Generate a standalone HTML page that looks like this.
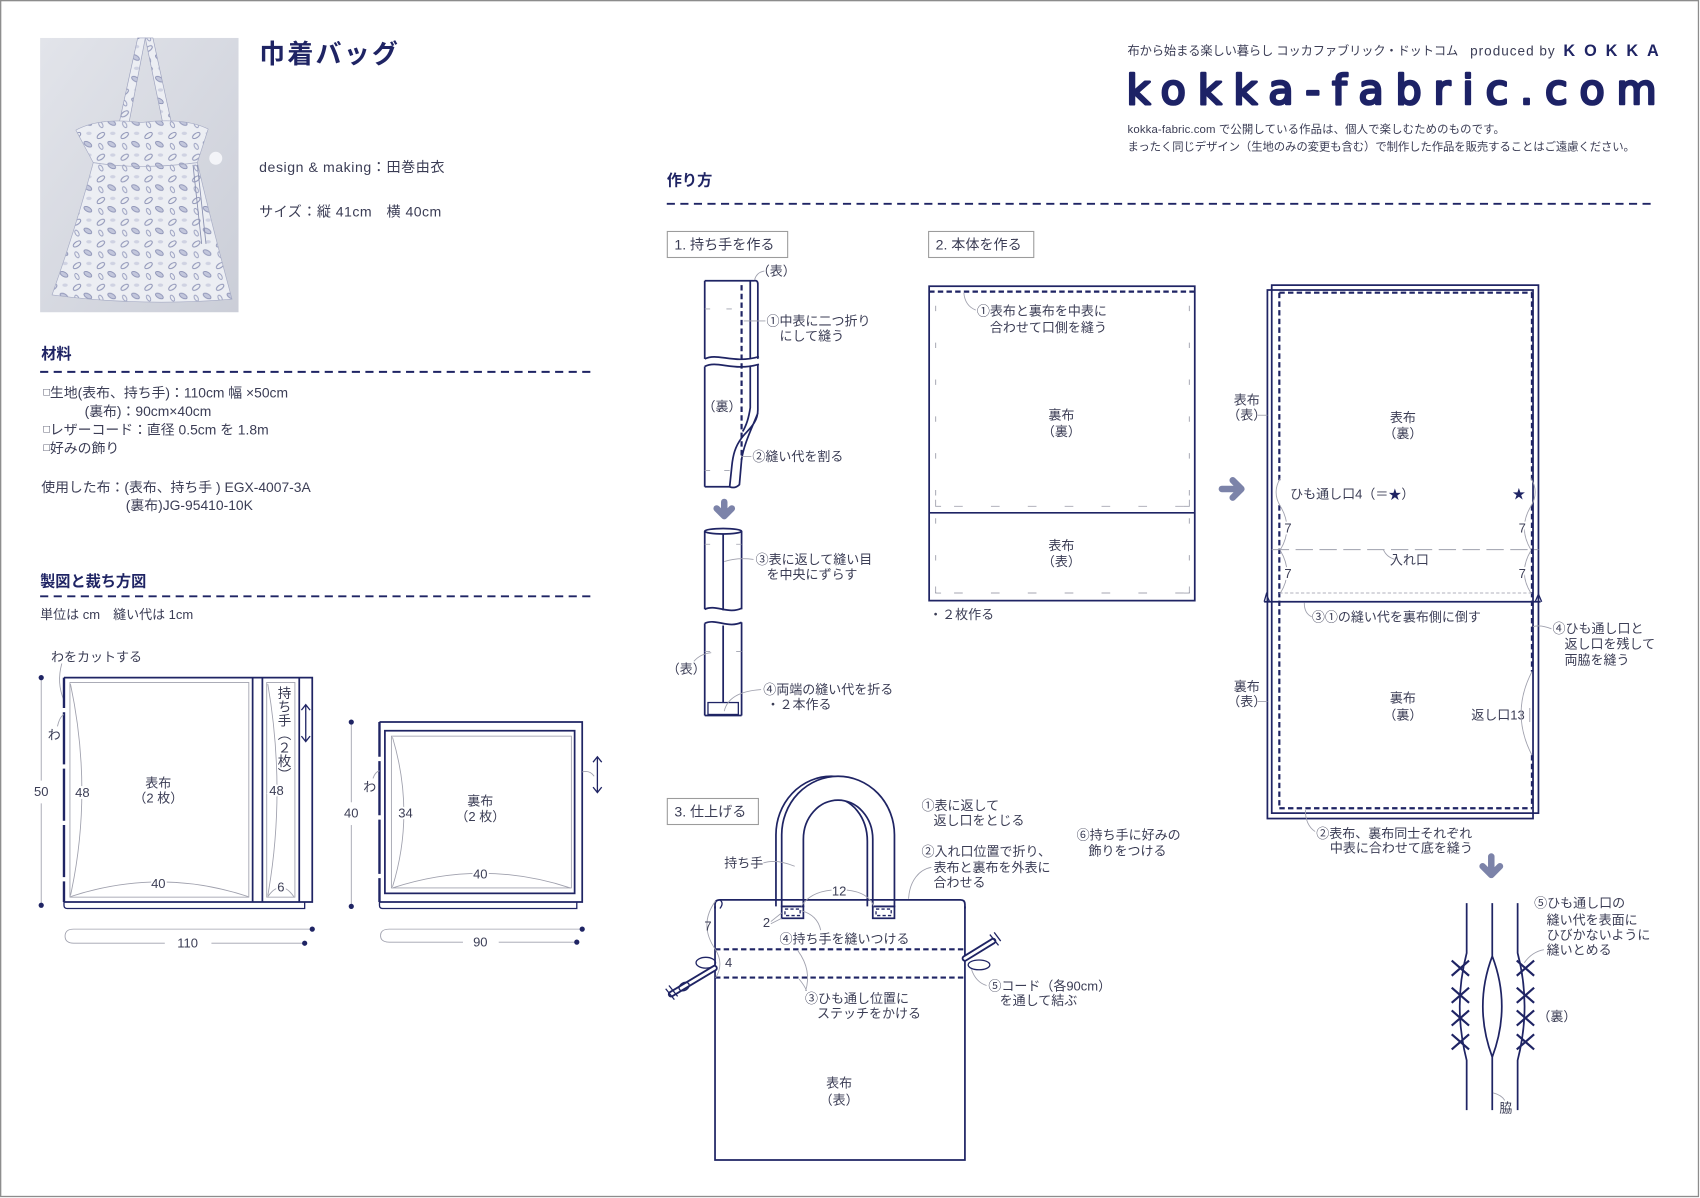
<!DOCTYPE html>
<html><head><meta charset="utf-8">
<style>
html,body{margin:0;padding:0;background:#fff;}
svg{display:block;}
text{font-family:"Liberation Sans","Noto Sans CJK JP",sans-serif;fill:#3b3d55;dominant-baseline:central;font-size:12px;}
.b{font-weight:bold;fill:#1f2464;}
.h{stroke:#fff;stroke-width:3.5px;paint-order:stroke;}
.m{text-anchor:middle;}
.nv{stroke:#1f2464;fill:none;stroke-width:1.6;}
.nt{stroke:#1f2464;fill:none;stroke-width:1.2;}
.gy{stroke:#9fa0ad;fill:none;stroke-width:0.8;}
.gd{stroke:#a5a6b2;fill:none;stroke-width:0.9;stroke-dasharray:5 29;}
.ds{stroke:#1f2464;fill:none;stroke-width:2;stroke-dasharray:5 3;}
.sec{stroke:#1f2464;fill:none;stroke-width:1.8;stroke-dasharray:7.5 5;}
.ar{stroke:#7c83a9;fill:none;stroke-width:6;stroke-linecap:round;stroke-linejoin:round;}
.dot{fill:#1f2464;}
</style></head><body>
<svg width="1700" height="1198" viewBox="0 0 1568 1105" xmlns="http://www.w3.org/2000/svg">
<defs>
<linearGradient id="wall" x1="0" y1="0" x2="1" y2="1">
<stop offset="0" stop-color="#e2e4ea"/><stop offset="1" stop-color="#cbced8"/>
</linearGradient>
<pattern id="leaf" width="22" height="20" patternUnits="userSpaceOnUse">
<rect width="22" height="20" fill="#eceef3"/>
<ellipse cx="5" cy="5" rx="4" ry="2" transform="rotate(-35 5 5)" fill="none" stroke="#8a90b4" stroke-width="0.9"/>
<ellipse cx="15" cy="13" rx="4" ry="2" transform="rotate(30 15 13)" fill="#c3c7dc" stroke="#8a90b4" stroke-width="0.8"/>
<ellipse cx="16" cy="3" rx="2.5" ry="1.5" fill="#cfd2e2"/>
<ellipse cx="5" cy="15" rx="3" ry="1.6" transform="rotate(60 5 15)" fill="none" stroke="#959bbd" stroke-width="0.8"/>
</pattern>
</defs>

<!-- page border -->
<rect x="0.6" y="0.6" width="1566" height="1103" fill="none" stroke="#8c8c8c" stroke-width="1.2"/>

<!-- photo -->
<rect x="37" y="35" width="183" height="253" fill="url(#wall)"/>
<polygon points="127,35 134,35 119,113 110,113" fill="url(#leaf)" stroke="#9ca1bd" stroke-width="0.6"/>
<polygon points="134,35 141,35 158,113 150,113" fill="url(#leaf)" stroke="#9ca1bd" stroke-width="0.6"/>
<path d="M70,120 Q92,108 130,113 Q170,108 192,119 L182,150 Q130,158 86,150 Z" fill="url(#leaf)" stroke="#a6abc4" stroke-width="0.6"/>
<path d="M86,150 Q130,157 182,150 Q196,210 214,276 Q130,283 48,272 Q70,210 86,150 Z" fill="url(#leaf)" stroke="#a6abc4" stroke-width="0.6"/>
<path d="M178,152 L186,225 M182,152 L190,225" stroke="#8a90b0" stroke-width="0.8" fill="none"/>
<circle cx="199" cy="146" r="6" fill="#f3f4f8"/>

<!-- title block -->
<text x="239" y="50" class="b" style="font-size:24px" textLength="128">巾着バッグ</text>
<text x="239" y="154" style="font-size:13px" textLength="171">design &amp; making：田巻由衣</text>
<text x="239" y="195" style="font-size:13px" textLength="168">サイズ：縦 41cm　横 40cm</text>

<!-- header right -->
<text x="1040" y="47" style="font-size:11.3px" textLength="305">布から始まる楽しい暮らし コッカファブリック・ドットコム</text>
<text x="1356" y="47" style="font-size:12.5px" textLength="78">produced by</text>
<text x="1442" y="47" class="b" style="font-size:15px" textLength="88">KOKKA</text>
<text x="1039" y="83" style="font-size:38px;fill:#1d2266;stroke:#1d2266;stroke-width:2.4px;stroke-linejoin:round;font-family:'DejaVu Sans',sans-serif" textLength="489" lengthAdjust="spacing">kokka-fabric.com</text>
<text x="1040" y="120" style="font-size:10.5px" textLength="348">kokka-fabric.com で公開している作品は、個人で楽しむためのものです。</text>
<text x="1040" y="136" style="font-size:10.5px" textLength="468">まったく同じデザイン（生地のみの変更も含む）で制作した作品を販売することはご遠慮ください。</text>

<!-- section headers -->
<text x="38" y="327" class="b" style="font-size:14px">材料</text>
<line x1="37" y1="343" x2="545" y2="343" class="sec"/>
<text x="37" y="537" class="b" style="font-size:14px">製図と裁ち方図</text>
<line x1="37" y1="550" x2="545" y2="550" class="sec"/>
<text x="615" y="167" class="b" style="font-size:14px">作り方</text>
<line x1="615" y1="188" x2="1527" y2="188" class="sec"/>

<!-- materials -->
<text x="40" y="362" style="font-size:12.8px"><tspan style="font-size:10px">□</tspan>生地(表布、持ち手)：110cm 幅 ×50cm</text>
<text x="78" y="379" style="font-size:12.8px">(裏布)：90cm×40cm</text>
<text x="40" y="396" style="font-size:12.8px"><tspan style="font-size:10px">□</tspan>レザーコード：直径 0.5cm を 1.8m</text>
<text x="40" y="413" style="font-size:12.8px"><tspan style="font-size:10px">□</tspan>好みの飾り</text>
<text x="38" y="449" style="font-size:12.8px">使用した布：(表布、持ち手 ) EGX-4007-3A</text>
<text x="116" y="466" style="font-size:12.8px">(裏布)JG-95410-10K</text>
<text x="37" y="567" style="font-size:12px">単位は cm　縫い代は 1cm</text>

<!-- cutting diagram piece 1 -->
<text x="47" y="606">わをカットする</text>
<path d="M57,612 Q52,630 59,646" class="gy"/>
<path d="M59,625 H288 V832 H59" class="nv"/>
<line x1="59" y1="625" x2="59" y2="832" stroke="#1f2464" stroke-width="2.2" stroke-dasharray="48 4" stroke-dashoffset="20"/>
<line x1="233" y1="625" x2="233" y2="832" class="nv"/>
<line x1="242" y1="625" x2="242" y2="832" class="nv"/>
<line x1="276" y1="625" x2="276" y2="832" class="nv"/>
<rect x="64.5" y="629.5" width="165" height="198" class="gy"/>
<rect x="246" y="629.5" width="26" height="198" class="gy"/>
<path d="M59,832 V835 Q59,838 62,838 H281 V832" class="nt"/>
<path d="M65,631 Q86,730 65,826" class="gy"/>
<path d="M65,827 Q147,800 229,827" class="gy"/>
<path d="M247,631 Q264,730 247,826" class="gy"/>
<path d="M247,827 Q259,810 271,827" class="gy"/>
<text x="76" y="731" class="m h">48</text>
<text x="146" y="815" class="m h">40</text>
<text x="255" y="729" class="m h">48</text>
<text x="259" y="818" class="m h">6</text>
<text x="146" y="722" class="m">表布</text>
<text x="146" y="736" class="m">（2 枚）</text>
<text x="261" y="633" style="writing-mode:vertical-rl;font-size:12.5px">持ち手（２枚）</text>
<path d="M282,650 V684 M278,655 L282,650 L286,655 M278,679 L282,684 L286,679" class="nt"/>
<text x="50" y="678" class="m">わ</text>
<path d="M53,670 Q55,661 59,659" class="gy"/>
<line x1="38" y1="625" x2="38" y2="720" class="gy"/>
<line x1="38" y1="741" x2="38" y2="835" class="gy"/>
<circle cx="38" cy="625" r="2.4" class="dot"/><circle cx="38" cy="835" r="2.4" class="dot"/>
<text x="38" y="730" class="m">50</text>
<path d="M288,857 H68 Q60,857 60,863.5 Q60,870 68,870 H152 M195,870 H281" class="gy"/>
<circle cx="288" cy="857" r="2.4" class="dot"/><circle cx="281" cy="870" r="2.4" class="dot"/>
<text x="173" y="870" class="m">110</text>

<!-- cutting diagram piece 2 -->
<path d="M350,666 H537 V832 H350" class="nv"/>
<line x1="350" y1="666" x2="350" y2="832" stroke="#1f2464" stroke-width="2.2" stroke-dasharray="50 4" stroke-dashoffset="18"/>
<rect x="355" y="674" width="175" height="150" class="nv"/>
<rect x="361" y="679" width="166" height="140" class="gy"/>
<path d="M350,832 V835 Q350,838 353,838 H532 V832" class="nt"/>
<path d="M362,680 Q383,750 362,818" class="gy"/>
<path d="M362,819 Q444,792 526,819" class="gy"/>
<text x="374" y="750" class="m h">34</text>
<text x="443" y="806" class="m h">40</text>
<text x="443" y="739" class="m">裏布</text>
<text x="443" y="753" class="m">（2 枚）</text>
<text x="341" y="726" class="m">わ</text>
<path d="M344,718 Q346,712 350,711" class="gy"/>
<line x1="324" y1="666" x2="324" y2="740" class="gy"/>
<line x1="324" y1="761" x2="324" y2="836" class="gy"/>
<circle cx="324" cy="666" r="2.4" class="dot"/><circle cx="324" cy="836" r="2.4" class="dot"/>
<text x="324" y="750" class="m">40</text>
<path d="M551,698 V731 M547,703 L551,698 L555,703 M547,726 L551,731 L555,726" class="nt"/>
<path d="M537,712 Q544,710 548,716" class="gy"/>
<path d="M537,857 H359 Q351,857 351,863 Q351,869 359,869 H427 M460,869 H532" class="gy"/>
<circle cx="537" cy="857" r="2.4" class="dot"/><circle cx="532" cy="869" r="2.4" class="dot"/>
<text x="443" y="869" class="m">90</text>

<!-- step boxes -->
<rect x="615.5" y="213.5" width="111" height="24" fill="none" stroke="#9c9c9c" stroke-width="1"/>
<text x="622" y="225.5" style="font-size:13px">1. 持ち手を作る</text>
<rect x="856.5" y="213.5" width="97" height="24" fill="none" stroke="#9c9c9c" stroke-width="1"/>
<text x="863" y="225.5" style="font-size:13px">2. 本体を作る</text>
<rect x="615.5" y="736.5" width="84" height="24" fill="none" stroke="#9c9c9c" stroke-width="1"/>
<text x="622" y="748.5" style="font-size:13px">3. 仕上げる</text>

<!-- step 1 strip 1 -->
<path d="M650,259 H695 Q699,258 699,262 V331" class="nv"/>
<line x1="692" y1="259" x2="692" y2="331" class="nv"/>
<line x1="650" y1="259" x2="650" y2="331" class="nv"/>
<path d="M650,331 C662,325 676,336 700,329" class="nv"/>
<path d="M650,338 C662,332 676,343 700,336" class="nv"/>
<line x1="650" y1="338" x2="650" y2="449" class="nv"/>
<path d="M650,449 H673" class="nv"/>
<path d="M699,336 V378 C699,391 689,397 684,404 C678,412 676,420 675,430 L673,449 Q678,451 682,447 L684,424 C686,410 693,396 699,381" class="nv"/>
<path d="M692,337 V376 Q690,390 685,398" class="nv"/>
<line x1="684" y1="263" x2="684" y2="424" class="ds"/>
<path d="M650,285 H655 M670,285 H675 M650,434 H655 M668,434 H673" class="gy"/>
<text x="716" y="250" class="m">（表）</text>
<path d="M705,250 Q698,251 696,258" class="gy"/>
<text x="707" y="296">①中表に二つ折り</text>
<text x="719" y="310">にして縫う</text>
<path d="M686,296 H706" class="gy"/>
<text x="666" y="375" class="m">（裏）</text>
<text x="694" y="421">②縫い代を割る</text>
<path d="M684,421 H693" class="gy"/>
<!-- down arrow -->
<path d="M668,463 V475 M661,469 L668,476 L675,469" class="ar"/>
<!-- strip 2 -->
<ellipse cx="667" cy="490" rx="17" ry="2.5" class="nv"/>
<line x1="650" y1="490" x2="650" y2="562" class="nv"/>
<line x1="684" y1="490" x2="684" y2="562" class="nv"/>
<line x1="667" y1="492" x2="667" y2="563" class="nv"/>
<path d="M650,562 C660,557 672,567 684,561" class="nv"/>
<path d="M650,575 C660,570 672,580 684,574" class="nv"/>
<line x1="650" y1="575" x2="650" y2="660" class="nv"/>
<line x1="684" y1="574" x2="684" y2="660" class="nv"/>
<line x1="667" y1="577" x2="667" y2="648" class="nv"/>
<path d="M650,660 H684" class="nv"/>
<rect x="653" y="648" width="28" height="11" class="nt"/>
<path d="M650,502 H655 M679,502 H684 M650,601 H655 M679,601 H684" class="gy"/>
<text x="697" y="516">③表に返して縫い目</text>
<text x="707" y="530">を中央にずらす</text>
<path d="M668,518 Q680,514 695,516" class="gy"/>
<text x="633" y="617" class="m">（表）</text>
<path d="M640,610 Q646,603 656,602" class="gy"/>
<text x="704" y="636">④両端の縫い代を折る</text>
<text x="707" y="650">・２本作る</text>
<path d="M668,656 Q672,638 702,636" class="gy"/>

<!-- step 2 left -->
<rect x="857" y="264" width="245" height="290" class="nv"/>
<line x1="857" y1="473" x2="1102" y2="473" class="nv"/>
<line x1="857" y1="269" x2="1102" y2="269" class="ds"/>
<line x1="863" y1="282" x2="863" y2="466" class="gd"/>
<line x1="1097" y1="282" x2="1097" y2="466" class="gd"/>
<line x1="880" y1="467" x2="1097" y2="467" class="gd" style="stroke-dasharray:8 26"/>
<path d="M863,461 V467 H868 M1097,461 V467 H1092" class="gy"/>
<line x1="863" y1="478" x2="863" y2="547" class="gd"/>
<line x1="1097" y1="478" x2="1097" y2="547" class="gd"/>
<line x1="880" y1="547" x2="1097" y2="547" class="gd" style="stroke-dasharray:8 26"/>
<path d="M863,541 V547 H868 M1097,541 V547 H1092" class="gy"/>
<text x="901" y="287">①表布と裏布を中表に</text>
<text x="913" y="302">合わせて口側を縫う</text>
<path d="M889,270 Q890,282 900,286" class="gy"/>
<text x="979" y="383" class="m">裏布</text>
<text x="979" y="398" class="m">（裏）</text>
<text x="979" y="503" class="m">表布</text>
<text x="979" y="518" class="m">（表）</text>
<text x="857" y="567">・２枚作る</text>

<!-- right arrow -->
<path d="M1127,451 H1143 M1137,443 L1145,451 L1137,459" class="ar"/>

<!-- step 2 right -->
<rect x="1169" y="267.5" width="245" height="487.5" class="nv"/>
<rect x="1173" y="263" width="246" height="487" class="nv"/>
<line x1="1166" y1="555" x2="1421" y2="555" class="nv"/>
<path d="M1166,555 L1168,548 L1171,555 M1416,555 L1419,548 L1422,555" class="nt"/>
<line x1="1180" y1="270" x2="1413" y2="270" class="ds"/>
<line x1="1180" y1="270" x2="1180" y2="443" class="ds"/>
<line x1="1180" y1="466" x2="1180" y2="745.5" class="ds"/>
<line x1="1413" y1="270" x2="1413" y2="443" class="ds"/>
<line x1="1413" y1="466" x2="1413" y2="619.5" class="ds"/>
<line x1="1413" y1="696.5" x2="1413" y2="745.5" class="ds"/>
<line x1="1180" y1="745.5" x2="1413" y2="745.5" class="ds"/>
<line x1="1173" y1="507" x2="1419" y2="507" stroke="#9fa0ad" stroke-width="0.9" stroke-dasharray="16 6"/>
<line x1="1180" y1="547" x2="1413" y2="547" stroke="#b0b1bc" stroke-width="0.9" stroke-dasharray="3 2"/>
<path d="M1181,441 Q1173,454 1181,467" class="gy"/>
<path d="M1412,441 Q1420,454 1412,467" class="gy"/>
<path d="M1181,467 Q1193,487 1181,507 M1181,508 Q1193,528 1181,547" class="gy"/>
<path d="M1412,467 Q1400,487 1412,507 M1412,508 Q1400,528 1412,547" class="gy"/>
<text x="1188" y="487" class="m h">7</text>
<text x="1188" y="529" class="m h">7</text>
<text x="1404" y="487" class="m h">7</text>
<text x="1404" y="529" class="m h">7</text>
<text x="1190" y="455.5">ひも通し口4（＝<tspan style="fill:#1f2464">★</tspan>）</text>
<text x="1401" y="455.5" class="m" style="fill:#1f2464">★</text>
<text x="1300" y="516.5" class="m h">入れ口</text>
<path d="M1276,507 Q1279,514 1287,516" class="gy"/>
<text x="1294" y="385" class="m">表布</text>
<text x="1294" y="400" class="m">（裏）</text>
<text x="1150" y="369" class="m">表布</text>
<text x="1150" y="383" class="m">（表）</text>
<path d="M1160,383 H1169" class="gy"/>
<text x="1210" y="569">③①の縫い代を裏布側に倒す</text>
<path d="M1203,556 Q1203,566 1210,569" class="gy"/>
<text x="1432" y="579.5">④ひも通し口と</text>
<text x="1443" y="594">返し口を残して</text>
<text x="1443" y="608.7">両脇を縫う</text>
<path d="M1414,578 Q1421,576 1431,580" class="gy"/>
<text x="1150" y="633" class="m">裏布</text>
<text x="1150" y="647" class="m">（表）</text>
<path d="M1160,647 H1169" class="gy"/>
<text x="1294" y="644" class="m">裏布</text>
<text x="1294" y="659.5" class="m">（裏）</text>
<text x="1357" y="659.5">返し口13</text>
<path d="M1413,619.5 Q1393,658 1413,696.5" class="gy"/>
<line x1="1411" y1="653" x2="1411" y2="666" class="gy"/>
<text x="1214" y="768.6">②表布、裏布同士それぞれ</text>
<text x="1226.6" y="782.4">中表に合わせて底を縫う</text>
<path d="M1204,747 Q1204,761 1213,767" class="gy"/>
<path d="M1375.5,790 V805 M1367.5,799 L1375.5,807 L1383.5,799" class="ar"/>

<!-- step 2 detail bottom right -->
<path d="M1352.8,833 V879 Q1340,928 1352.8,978 V1024" class="nv"/>
<path d="M1399.8,833 V879 Q1412.6,928 1399.8,978 V1024" class="nv"/>
<path d="M1376.4,833 V882 Q1359,928 1376.4,975 V1024 M1376.4,882 Q1394,928 1376.4,975" class="nv"/>
<g stroke="#1f2464" stroke-width="2" fill="none">
<path d="M1339,886 L1355,900 M1339,900 L1355,886"/>
<path d="M1339,911 L1355,925 M1339,925 L1355,911"/>
<path d="M1339,932 L1355,946 M1339,946 L1355,932"/>
<path d="M1339,954 L1355,968 M1339,968 L1355,954"/>
<path d="M1399,886 L1415,900 M1399,900 L1415,886"/>
<path d="M1399,911 L1415,925 M1399,925 L1415,911"/>
<path d="M1399,932 L1415,946 M1399,946 L1415,932"/>
<path d="M1399,954 L1415,968 M1399,968 L1415,954"/>
</g>
<text x="1415" y="833">⑤ひも通し口の</text>
<text x="1426.6" y="848.6">縫い代を表面に</text>
<text x="1426.6" y="862.4">ひびかないように</text>
<text x="1426.6" y="876.2">縫いとめる</text>
<path d="M1424,876 Q1413,878 1406,888" class="gy"/>
<text x="1436" y="937.7" class="m">（裏）</text>
<text x="1389" y="1022" class="m">脇</text>
<path d="M1377,1008 Q1385,1010 1388,1015" class="gy"/>

<!-- step 3 bag -->
<path d="M715.7,836 V770 A51,54 0 0 1 817.7,770 V836" class="nv"/>
<path d="M736,836 V776 A32,40 0 0 1 800,776 V836" class="nv"/>
<path d="M721,836 V770 A52,54 0 0 1 825,770 V836 H805 V774 A32,36 0 0 0 741,774 V836 Z" fill="#fff" stroke="#1f2464" stroke-width="1.6"/>
<path d="M659.5,836 V1070 H890 V836" class="nv"/>
<path d="M659.5,838 V834 Q659.5,830 664,830 H886 Q890,830 890,834 V838" class="nv"/>
<path d="M664,830 Q668,833 664,838" class="nt"/>
<line x1="659.5" y1="875.6" x2="890" y2="875.6" class="ds"/>
<line x1="659.5" y1="901.7" x2="890" y2="901.7" class="ds"/>
<rect x="721" y="836" width="20" height="11" fill="#fff" class="nv"/>
<rect x="724" y="838.5" width="14" height="6" fill="none" stroke="#1f2464" stroke-width="1.2" stroke-dasharray="3 2"/>
<rect x="805" y="836" width="20" height="11" fill="#fff" class="nv"/>
<rect x="808" y="838.5" width="14" height="6" fill="none" stroke="#1f2464" stroke-width="1.2" stroke-dasharray="3 2"/>
<ellipse cx="651" cy="888" rx="9" ry="5" fill="#fff" class="nt"/>
<path d="M659,893 L619,917" stroke="#1f2464" stroke-width="6" stroke-linecap="round"/>
<path d="M659,893 L619,917" stroke="#fff" stroke-width="2.6" stroke-linecap="round"/>
<ellipse cx="631" cy="910" rx="5" ry="3.5" transform="rotate(-30 631 910)" fill="#fff" class="nt"/>
<path d="M614,912 L622,922 M617,909 L625,919" class="nt"/>
<ellipse cx="903" cy="890" rx="10" ry="4.5" fill="#fff" class="nt"/>
<path d="M890,884 L916,868" stroke="#1f2464" stroke-width="6" stroke-linecap="round"/>
<path d="M890,884 L916,868" stroke="#fff" stroke-width="2.6" stroke-linecap="round"/>
<path d="M913,862 L921,872 M917,860 L923,868" class="nt"/>
<text x="850" y="743">①表に返して</text>
<text x="861" y="757">返し口をとじる</text>
<text x="850" y="785.5">②入れ口位置で折り、</text>
<text x="861" y="800">表布と裏布を外表に</text>
<text x="861" y="814">合わせる</text>
<path d="M838,829 C839,812 848,802 859,800" class="gy"/>
<text x="993" y="770">⑥持ち手に好みの</text>
<text x="1004" y="785">飾りをつける</text>
<text x="668" y="796">持ち手</text>
<path d="M704,796 Q716,792 733,799" class="gy"/>
<path d="M739,836 Q747,823 767,821 M781,821 Q801,823 806,836" class="gy"/>
<text x="774" y="822" class="m">12</text>
<text x="707" y="851" class="m">2</text>
<path d="M711,850 L721,842 M711,852 L721,847" class="gy"/>
<path d="M660,831 Q644,853 660,876" class="gy"/>
<text x="653" y="854" class="m">7</text>
<path d="M660,876 Q668,889 660,902" class="gy"/>
<text x="672" y="888" class="m">4</text>
<text x="719" y="866">④持ち手を縫いつける</text>
<path d="M739,840 Q754,844 757,858" class="gy"/>
<text x="742.5" y="921">③ひも通し位置に</text>
<text x="753.6" y="935">ステッチをかける</text>
<path d="M736,877 Q749,895 743,914 M737,903 Q742,909 744,914" class="gy"/>
<text x="911.6" y="909.4">⑤コード（各90cm）</text>
<text x="922" y="923">を通して結ぶ</text>
<path d="M896,894 Q900,906 910,909" class="gy"/>
<text x="774" y="999" class="m">表布</text>
<text x="774" y="1014.6" class="m">（表）</text>
</svg>
</body></html>
